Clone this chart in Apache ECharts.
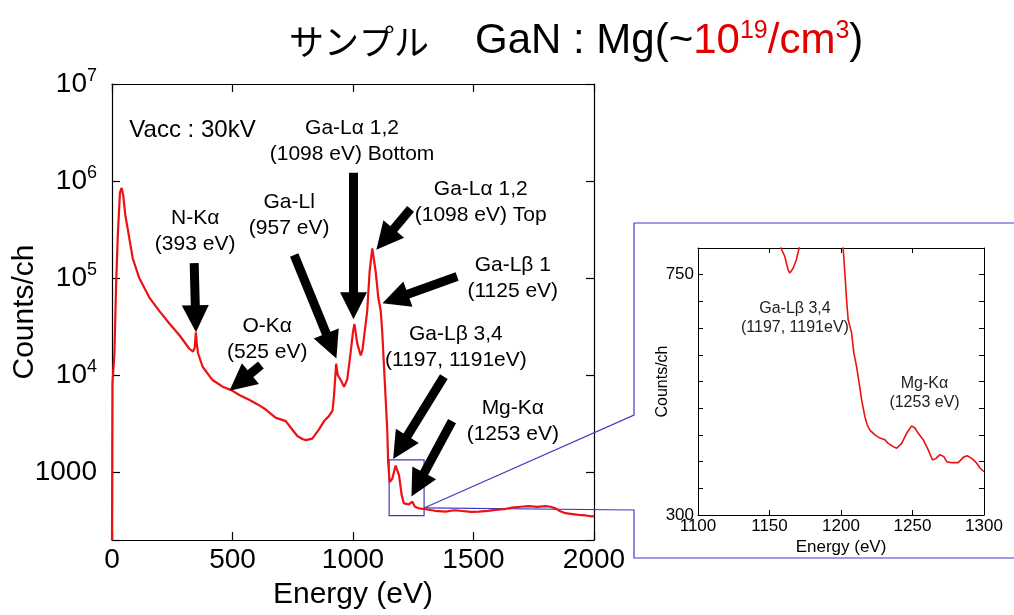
<!DOCTYPE html>
<html>
<head>
<meta charset="utf-8">
<title>GaN:Mg spectrum</title>
<script src="https://cdn.jsdelivr.net/npm/echarts@6/dist/echarts.min.js"></script>
<style>
html, body { margin: 0; padding: 0; background: #fff; }
#chart { width: 1014px; height: 615px; }
</style>
</head>
<body>
<div id="chart"></div>
<script>
// main spectrum (eV, counts/ch)
var energy = [0, 1, 2, 10, 17, 24, 33, 40, 47, 55, 65, 86, 113, 155, 196, 238, 279, 321, 336, 343, 348, 352, 357, 376, 417, 459, 493, 530, 569, 610, 638, 680, 700, 721, 742, 769, 790, 804, 831, 859, 880, 900, 915, 921, 930, 937, 949, 963, 976, 990, 1000, 1006, 1018, 1032, 1039, 1059, 1069, 1080, 1094, 1105, 1115, 1121, 1128, 1135, 1142, 1146, 1152, 1163, 1177, 1184, 1191, 1202, 1211, 1232, 1246, 1257, 1273, 1294, 1340, 1384, 1420, 1453, 1490, 1522, 1560, 1591, 1625, 1660, 1695, 1729, 1765, 1798, 1820, 1840, 1860, 1881, 1910, 1936, 1965, 1991, 2000];
var counts = [200, 1200, 8300, 16600, 85000, 275000, 760000, 850000, 700000, 450000, 323000, 160000, 100000, 63000, 46000, 34000, 25900, 18700, 17500, 19000, 27600, 21000, 16800, 12200, 8900, 7600, 7050, 6200, 5580, 4900, 4420, 3630, 3500, 3360, 2870, 2360, 2200, 2140, 2220, 2760, 3360, 3780, 4300, 6030, 13100, 10000, 8900, 7600, 9000, 17000, 28000, 33600, 21000, 16000, 18000, 45700, 117000, 202000, 117000, 63000, 46000, 28800, 13100, 6040, 2760, 1265, 790, 855, 1170, 1215, 925, 580, 476, 466, 496, 440, 424, 417, 400, 392, 405, 398, 390, 392, 400, 408, 415, 431, 440, 447, 438, 447, 440, 424, 395, 378, 370, 363, 358, 350, 352];

// zoomed view 1100-1300 eV
var insetEnergy = [1156, 1158, 1160.7, 1163, 1164.2, 1166.5, 1168.8, 1170.7, 1173, 1199, 1201.5, 1202.7, 1203.9, 1205, 1207.4, 1209, 1210.9, 1212.7, 1214.4, 1216.7, 1218.3, 1220.2, 1223.7, 1227.2, 1230.7, 1233, 1236.5, 1238.9, 1242.4, 1245.9, 1249.4, 1251.7, 1254, 1257.5, 1261, 1264, 1266.4, 1269.2, 1272, 1273.9, 1277.4, 1282, 1285.5, 1288.3, 1291.4, 1294.9, 1297.2, 1300];
var insetCounts = [860, 800, 784, 759, 753, 762, 778, 800, 860, 860, 800, 753, 703, 666, 641, 603, 578, 547, 516, 484, 469, 459, 450, 444, 441, 434, 428, 425, 434, 453, 467, 463, 453, 441, 422, 403, 406, 413, 409, 400, 398, 398, 408, 411, 406, 397, 388, 381];

// peak labels [eV, counts, text]
var peakLabels = [
  [996, 2.6e6, 'Ga-Lα 1,2\n(1098 eV) Bottom'],
  [345, 301000, 'N-Kα\n(393 eV)'],
  [735, 444000, 'Ga-Ll\n(957 eV)'],
  [644, 23200, 'O-Kα\n(525 eV)'],
  [1530, 604000, 'Ga-Lα 1,2\n(1098 eV) Top'],
  [1663, 100300, 'Ga-Lβ 1\n(1125 eV)'],
  [1427, 19200, 'Ga-Lβ 3,4\n(1197, 1191eV)'],
  [1663, 3320, 'Mg-Kα\n(1253 eV)']
];
var vaccLabel = [72, 3.29e6, 'Vacc : 30kV'];

// arrows [tail eV, tail counts, head eV, head counts]
var arrows = [
  [341, 142600, 347, 38100],
  [618, 12700, 531, 8460],
  [756, 173000, 910, 19950],
  [1002, 1.22e6, 1002, 52000],
  [1239, 516000, 1133, 251000],
  [1432, 104000, 1175, 61400],
  [1377, 9640, 1196, 1800],
  [1411, 3360, 1269, 743]
];

var insetLabels = [
  [1167.8, 669, 'Ga-Lβ 3,4\n(1197, 1191eV)'],
  [1258.4, 529, 'Mg-Kα\n(1253 eV)']
];

// zoom box on the main plot [x0, y0, x1, y1] and callout apex
var zoomBox = [1150, 357, 1295, 1340];
var zoomApex = [1295, 428];

var FONT = 'Liberation Sans, Arial, sans-serif';
var RED = '#ee1111';
var BLUE = '#3c3cc0';

var chart = echarts.init(document.getElementById('chart'));

function zip(a, b) {
  return a.map(function (v, i) { return [v, b[i]]; });
}

function plain(v) { return String(v); }

function boxAxis(extra) {
  var base = {
    axisLine: { show: true, onZero: false, lineStyle: { color: '#000', width: 1.2 } },
    axisTick: { show: true, inside: true, length: 8, lineStyle: { color: '#000', width: 1.2 } },
    splitLine: { show: false },
    axisLabel: { show: false },
    nameMoveOverlap: false
  };
  return Object.assign(base, extra);
}

var option = {
  animation: false,
  backgroundColor: '#fff',
  title: {
    left: 284,
    top: 14,
    text: '{a|サンプル}{g|GaN : Mg(~}{r|10}{rs|19}{r|/cm}{rs|3}{g|)}',
    textStyle: {
      fontWeight: 'normal',
      rich: {
        a: { fontFamily: 'Noto Sans CJK JP', fontSize: 35, fontWeight: 'normal', color: '#000', padding: [0, 46, 0, 0] },
        g: { fontFamily: FONT, fontSize: 42, fontWeight: 'normal', color: '#000' },
        r: { fontFamily: FONT, fontSize: 42, fontWeight: 'normal', color: '#e00000' },
        rs: { fontFamily: FONT, fontSize: 25, fontWeight: 'normal', color: '#e00000', padding: [0, 0, 20, 0] }
      }
    }
  },
  grid: [
    { left: 112, top: 84, width: 482, height: 460 },
    { left: 698, top: 248, width: 286, height: 267 }
  ],
  xAxis: [
    boxAxis({
      type: 'value', gridIndex: 0, position: 'bottom', min: 0, max: 2000, interval: 500,
      axisLabel: { show: true, fontFamily: FONT, fontSize: 28, color: '#000', margin: 6, formatter: plain },
      name: 'Energy (eV)', nameLocation: 'middle', nameGap: 40,
      nameTextStyle: { fontFamily: FONT, fontSize: 30, color: '#000' }
    }),
    boxAxis({ type: 'value', gridIndex: 0, position: 'top', min: 0, max: 2000, interval: 500 }),
    boxAxis({
      type: 'value', gridIndex: 1, position: 'bottom', min: 1100, max: 1300, interval: 50,
      axisTick: { show: true, inside: true, length: 5, lineStyle: { color: '#000' } },
      axisLine: { show: true, onZero: false, lineStyle: { color: '#000', width: 1 } },
      axisLabel: { show: true, fontFamily: FONT, fontSize: 17, color: '#000', margin: 3, formatter: plain },
      name: 'Energy (eV)', nameLocation: 'middle', nameGap: 24,
      nameTextStyle: { fontFamily: FONT, fontSize: 17, color: '#000' }
    }),
    boxAxis({
      type: 'value', gridIndex: 1, position: 'top', min: 1100, max: 1300, interval: 50,
      axisTick: { show: true, inside: true, length: 5, lineStyle: { color: '#000' } },
      axisLine: { show: true, onZero: false, lineStyle: { color: '#000', width: 1 } }
    })
  ],
  yAxis: [
    boxAxis({
      type: 'log', logBase: 10, gridIndex: 0, position: 'left', min: 200, max: 1e7,
      axisLabel: {
        show: true, margin: 15, color: '#000', fontFamily: FONT,
        formatter: function (v) {
          var e = Math.round(Math.log10(v));
          if (Math.abs(v - Math.pow(10, e)) > 1e-6 * v) return '';
          if (e === 3) return '{b|1000}';
          if (e > 3) return '{b|10}{s|' + e + '}';
          return '';
        },
        rich: {
          b: { fontFamily: FONT, fontSize: 28, color: '#000' },
          s: { fontFamily: FONT, fontSize: 18, color: '#000', padding: [0, 0, 16, 0] }
        }
      },
      name: 'Counts/ch', nameLocation: 'middle', nameGap: 72,
      nameTextStyle: { fontFamily: FONT, fontSize: 30, color: '#000' }
    }),
    boxAxis({ type: 'log', logBase: 10, gridIndex: 0, position: 'right', min: 200, max: 1e7 }),
    boxAxis({
      type: 'value', gridIndex: 1, position: 'left', min: 300, max: 800, interval: 50,
      axisTick: { show: true, inside: true, length: 5, lineStyle: { color: '#000' } },
      axisLine: { show: true, onZero: false, lineStyle: { color: '#000', width: 1 } },
      axisLabel: {
        show: true, margin: 4, fontFamily: FONT, fontSize: 17, color: '#000',
        formatter: function (v) { return (v === 300 || v === 750) ? String(v) : ''; }
      },
      name: 'Counts/ch', nameLocation: 'middle', nameGap: 27,
      nameTextStyle: { fontFamily: FONT, fontSize: 16, color: '#000' }
    }),
    boxAxis({
      type: 'value', gridIndex: 1, position: 'right', min: 300, max: 800, interval: 50,
      axisTick: { show: true, inside: true, length: 5, lineStyle: { color: '#000' } },
      axisLine: { show: true, onZero: false, lineStyle: { color: '#000', width: 1 } }
    })
  ],
  series: [
    {
      name: 'spectrum',
      type: 'line',
      xAxisIndex: 0, yAxisIndex: 0,
      data: zip(energy, counts),
      showSymbol: false,
      clip: true,
      lineStyle: { color: RED, width: 2.2 },
      z: 3,
      markArea: {
        silent: true,
        itemStyle: { color: 'rgba(0,0,0,0)', borderColor: BLUE, borderWidth: 1.2 },
        data: [[{ coord: [zoomBox[0], zoomBox[1]] }, { coord: [zoomBox[2], zoomBox[3]] }]]
      },
      markLine: {
        silent: true,
        symbol: ['none', 'triangle'],
        symbolSize: [27, 27],
        label: { show: false },
        emphasis: { disabled: true },
        lineStyle: { color: '#000', width: 9, type: 'solid' },
        data: arrows.map(function (a) {
          return [{ coord: [a[0], a[1]] }, { coord: [a[2], a[3]] }];
        })
      }
    },
    {
      name: 'labels',
      type: 'scatter',
      xAxisIndex: 0, yAxisIndex: 0,
      symbolSize: 0,
      silent: true,
      z: 5,
      itemStyle: { opacity: 1 },
      label: {
        show: true, position: 'inside', color: '#000', opacity: 1, fontFamily: FONT,
        fontSize: 21, lineHeight: 26, align: 'center',
        formatter: function (p) { return p.data.value ? p.data.value[2] : p.data[2]; }
      },
      data: peakLabels.concat([{
        value: vaccLabel,
        label: { align: 'left', fontSize: 24 }
      }])
    },
    {
      name: 'zoom',
      type: 'line',
      xAxisIndex: 2, yAxisIndex: 2,
      data: zip(insetEnergy, insetCounts),
      showSymbol: false,
      clip: true,
      lineStyle: { color: RED, width: 1.6 }
    },
    {
      name: 'zoomLabels',
      type: 'scatter',
      xAxisIndex: 2, yAxisIndex: 2,
      symbolSize: 0,
      silent: true,
      itemStyle: { opacity: 1 },
      label: {
        show: true, position: 'inside', color: '#222', opacity: 1, fontFamily: FONT,
        fontSize: 16, lineHeight: 19, align: 'center',
        formatter: function (p) { return p.data[2]; }
      },
      data: insetLabels
    }
  ]
};

chart.setOption(option);

// callout frame from the zoom box to the inset
var apex = chart.convertToPixel({ gridIndex: 0 }, zoomApex);
var g = option.grid[1];
var fx = g.left - 64, fy = g.top - 25, fb = g.top + g.height + 43;
chart.setOption({
  graphic: [{
    type: 'polyline',
    silent: true,
    z: 1,
    shape: {
      points: [apex, [fx, 415], [fx, fy], [1020, fy], [1020, fb], [fx, fb], [fx, 510], apex]
    },
    style: { stroke: BLUE, lineWidth: 1.2, fill: null }
  }]
});
</script>
</body>
</html>
